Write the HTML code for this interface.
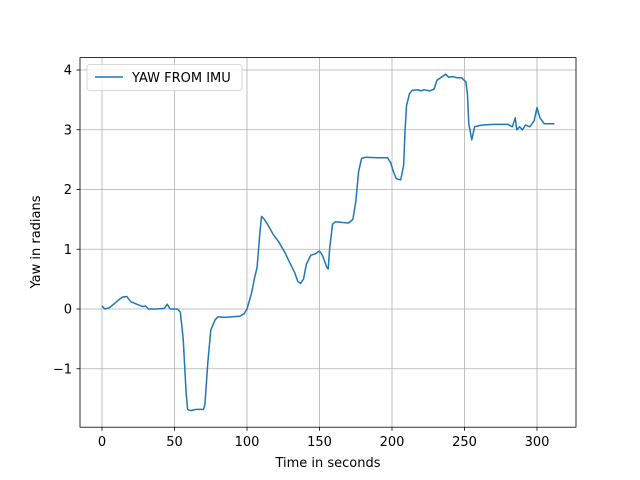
<!DOCTYPE html>
<html><head><meta charset="utf-8"><style>
body{margin:0;background:#fff}
svg{display:block;font-family:"DejaVu Sans","Liberation Sans",sans-serif}
</style></head><body>
<svg id="chart" width="640" height="480">
<rect x="0" y="0" width="640" height="480" fill="#fff"/>
<g id="grid"></g>
<g id="axes"></g>
<path id="line" fill="none" stroke="#1f77b4" stroke-width="1.5" stroke-linejoin="round"/>
<rect x="80" y="57.6" width="496" height="369.6" fill="none" stroke="#000" stroke-width="0.8"/>
<text x="328" y="467" text-anchor="middle" font-size="13">Time in seconds</text>
<text transform="translate(40,242) rotate(-90)" text-anchor="middle" font-size="13">Yaw in radians</text>
<g>
<rect x="87" y="64.5" width="155" height="26" rx="3" fill="#fff" fill-opacity="0.8" stroke="#ccc" stroke-width="0.8"/>
<line x1="95" y1="77" x2="123" y2="77" stroke="#1f77b4" stroke-width="1.5"/>
<text x="132" y="82" font-size="13">YAW FROM IMU</text>
</g>
</svg>
<script>
const times=[0,2,5,10,14,17,20,25,28,30,32,38,43,45,47,52,54,56,58,59,61,65,70,71,73,75,78,80,85,90,95,98,100,103,105,107,109,110,112,115,118,122,126,130,133,135,137,139,141,144,147,150,152,155,156,157,159,161,165,170,173,175,177,179,182,190,197,199,201,203,206,208,209,210,212,214,218,220,222,226,229,231,234,237,239,242,245,248,251,252,253,255,257,260,263,270,280,283,285,286,288,290,292,295,298,300,302,305,312];
const yaws=[0.05,0.0,0.02,0.12,0.2,0.21,0.12,0.07,0.04,0.05,0.0,0.0,0.01,0.08,0.0,0.0,-0.05,-0.5,-1.4,-1.68,-1.7,-1.68,-1.68,-1.6,-0.9,-0.35,-0.18,-0.13,-0.14,-0.13,-0.12,-0.08,0.0,0.25,0.5,0.7,1.3,1.55,1.5,1.38,1.25,1.12,0.95,0.75,0.6,0.46,0.43,0.5,0.75,0.9,0.92,0.97,0.9,0.7,0.67,1.0,1.42,1.46,1.45,1.44,1.5,1.8,2.3,2.52,2.54,2.53,2.53,2.45,2.3,2.18,2.16,2.4,3.0,3.4,3.6,3.66,3.67,3.65,3.67,3.65,3.68,3.83,3.88,3.93,3.88,3.89,3.87,3.87,3.8,3.6,3.1,2.83,3.05,3.07,3.08,3.09,3.09,3.05,3.2,3.0,3.05,3.0,3.08,3.05,3.15,3.37,3.2,3.1,3.1];
const xTicks=[0,50,100,150,200,250,300];
const yTicks=[-1,0,1,2,3,4];
const xs=t=>102+t*1.45;
const ys=v=>309-v*59.75;
const NS="http://www.w3.org/2000/svg";
const grid=document.getElementById('grid'),axes=document.getElementById('axes');
function mk(tag,attrs,parent){const e=document.createElementNS(NS,tag);for(const k in attrs)e.setAttribute(k,attrs[k]);parent.appendChild(e);return e;}
xTicks.forEach(t=>{
 const x=xs(t);
 const g=mk('line',{x1:x,x2:x,y1:57.6,y2:427.2,stroke:'#b0b0b0','stroke-width':0.8},grid);
 
 
 const tk=mk('line',{x1:x,x2:x,y1:427.2,y2:430.7,stroke:'#000','stroke-width':0.8},axes);
 
 
 const lb=mk('text',{x:x,y:446,'text-anchor':'middle','font-size':13},axes);
 lb.textContent=t;
 
 
});
yTicks.forEach(v=>{
 const y=ys(v);
 const g=mk('line',{x1:80,x2:576,y1:y,y2:y,stroke:'#b0b0b0','stroke-width':0.8},grid);
 
 
 const tk=mk('line',{x1:76.5,x2:80,y1:y,y2:y,stroke:'#000','stroke-width':0.8},axes);
 
 
 const lb=mk('text',{x:72,y:y+4.5,'text-anchor':'end','font-size':13},axes);
 lb.textContent=v<0?'\u2212'+Math.abs(v):v;
 
 
});
document.getElementById('line').setAttribute('d',times.map((t,i)=>(i?'L':'M')+xs(t).toFixed(1)+','+ys(yaws[i]).toFixed(1)).join(''));
</script>
</body></html>
